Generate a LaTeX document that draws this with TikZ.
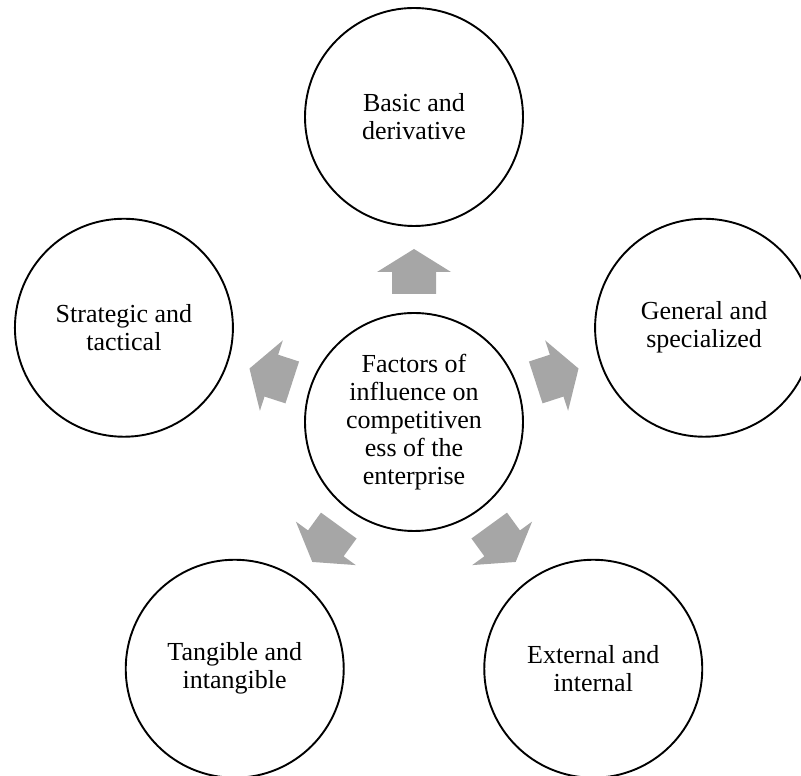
\documentclass[tikz,border=0pt]{standalone}
\usepackage{fontspec}
\setmainfont{Liberation Serif}
\usetikzlibrary{calc}
\begin{document}
\begin{tikzpicture}[x=1pt,y=1pt,
  factor/.style={circle, draw=black, line width=1.9pt, fill=white,
    minimum size=218pt, inner sep=0pt, align=center,
    font=\fontsize{26}{28}\selectfont},
  arrowfill/.style={fill=black!35, draw=none}]
  \useasboundingbox (0,0) rectangle (801,776);
  \clip (0,0) rectangle (801,776);

  % hub and the five kinds of factors around it
  \coordinate (c) at (414,354);
  \node[factor] (hub) at (c) {Factors of\\influence on\\competitiven\\ess of the\\enterprise};
  \node[factor] (basic)     at ($(c)+(90:305)$)  {Basic and\\derivative};
  \node[factor] (strategic) at ($(c)+(162:305)$) {Strategic and\\tactical};
  \node[factor] (tangible)  at ($(c)+(234:305)$) {Tangible and\\intangible};
  \node[factor] (external)  at ($(c)+(306:305)$) {External and\\internal};
  \node[factor] (general)   at ($(c)+(18:305)$)  {General and\\specialized};

  % block arrows from the hub outwards
  \foreach \ang in {90,162,234,306,18} {
    \begin{scope}[shift={(hub.center)}, rotate=\ang]
      \fill[arrowfill] (128,-22) -- (150,-22) -- (150,-37) -- (173,0)
        -- (150,37) -- (150,22) -- (128,22) -- cycle;
    \end{scope}
  }
\end{tikzpicture}
\end{document}
